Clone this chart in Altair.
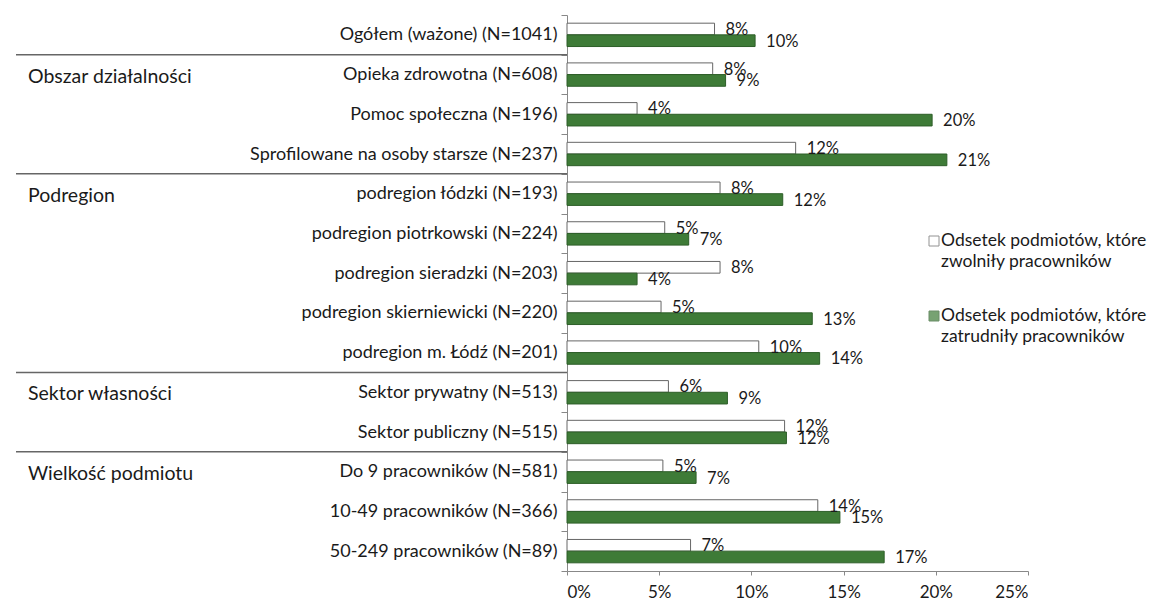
import altair as alt
import pandas as pd

categories = [
    "Ogółem (ważone) (N=1041)",
    "Opieka zdrowotna (N=608)",
    "Pomoc społeczna (N=196)",
    "Sprofilowane na osoby starsze (N=237)",
    "podregion łódzki (N=193)",
    "podregion piotrkowski (N=224)",
    "podregion sieradzki (N=203)",
    "podregion skierniewicki (N=220)",
    "podregion m. Łódź (N=201)",
    "Sektor prywatny (N=513)",
    "Sektor publiczny (N=515)",
    "Do 9 pracowników (N=581)",
    "10-49 pracowników (N=366)",
    "50-249 pracowników (N=89)",
]
series = [
    "Odsetek podmiotów, które\nzwolniły pracowników",
    "Odsetek podmiotów, które\nzatrudniły pracowników",
]
zwolnily = [8.0, 7.9, 3.8, 12.4, 8.3, 5.3, 8.3, 5.1, 10.4, 5.5, 11.8, 5.2, 13.6, 6.7]
zatrudnily = [10.2, 8.6, 19.8, 20.6, 11.7, 6.6, 3.8, 13.3, 13.7, 8.7, 11.9, 7.0, 14.8, 17.2]
x_ticks = [0, 5, 10, 15, 20, 25]
group_names = ["Obszar działalności", "Podregion", "Sektor własności", "Wielkość podmiotu"]
group_first = [
    "Opieka zdrowotna (N=608)",
    "podregion łódzki (N=193)",
    "Sektor prywatny (N=513)",
    "Do 9 pracowników (N=581)",
]

FONT = "Lato"
TXT = "#1a1a1a"
GREEN = "#3e7b37"

rows = []
for c, a, b in zip(categories, zwolnily, zatrudnily):
    rows.append({"cat": c, "series": series[0], "value": a})
    rows.append({"cat": c, "series": series[1], "value": b})
df = pd.DataFrame(rows)
gdf = pd.DataFrame({"cat": group_first, "group": group_names})

yscale = alt.Scale(domain=categories, paddingInner=0, paddingOuter=0)
yenc = alt.Y(
    "cat:N", sort=categories, scale=yscale, title=None,
    axis=alt.Axis(tickBand="extent", tickSize=6, tickColor="#888", domainColor="#888",
                  labelFontSize=18, labelColor=TXT, labelPadding=4, labelLimit=600,
                  labelFont=FONT),
)
xenc = alt.X(
    "value:Q", scale=alt.Scale(domain=[0, 25], nice=False), title=None,
    axis=alt.Axis(values=x_ticks, labelExpr="datum.value + '%'", grid=False, tickSize=4,
                  tickColor="#888", domainColor="#888", labelFontSize=17, labelColor=TXT,
                  labelPadding=9, labelFont=FONT),
)
yoff = alt.YOffset("series:N", sort=series,
                   scale=alt.Scale(domain=series, paddingOuter=0.7, paddingInner=0))

base = alt.Chart(df)
bars = base.mark_bar(strokeWidth=1).encode(
    x=xenc, y=yenc, yOffset=yoff,
    color=alt.Color("series:N", scale=alt.Scale(domain=series, range=["#ffffff", GREEN]), legend=None),
    stroke=alt.Stroke("series:N", scale=alt.Scale(domain=series, range=["#666666", "#2d5e28"]), legend=None),
)
labels = base.transform_calculate(lab="round(datum.value) + '%'").mark_text(
    align="left", baseline="middle", dx=11, dy=1, fontSize=16.5, font=FONT, color=TXT
).encode(x="value:Q", y=alt.Y("cat:N", sort=categories), yOffset=yoff, text="lab:N")

group_text = alt.Chart(gdf).mark_text(
    align="left", baseline="middle", dy=2, fontSize=19.5, font=FONT, color=TXT
).encode(x=alt.value(-539), y=alt.Y("cat:N", sort=categories), text="group:N")

sep = alt.Chart(gdf).mark_rule(color="#666666", strokeWidth=1.5).encode(
    y=alt.Y("cat:N", sort=categories, bandPosition=0),
    x=alt.value(-551), x2=alt.value(0),
)

legend_layers = []
sym_y = [226, 301]
for i, s in enumerate(series):
    ldf = pd.DataFrame({"series": [s]})
    sq = alt.Chart(ldf).mark_point(shape="square", filled=True, size=100, strokeWidth=1).encode(
        x=alt.value(367), y=alt.value(sym_y[i]),
        color=alt.Color("series:N", scale=alt.Scale(domain=series, range=["#ffffff", GREEN]), legend=None),
        stroke=alt.Stroke("series:N", scale=alt.Scale(domain=series, range=["#666666", "#2d5e28"]), legend=None),
    )
    tx = alt.Chart(ldf).mark_text(
        align="left", baseline="middle", lineBreak="\n", lineHeight=21, fontSize=17.5,
        font=FONT, color=TXT
    ).encode(x=alt.value(374), y=alt.value(sym_y[i]), text="series:N")
    legend_layers += [sq, tx]

chart = alt.layer(bars, labels, group_text, sep, *legend_layers).properties(
    width=461, height=556,
    autosize=alt.AutoSizeParams(type="none"),
    padding={"left": 567, "top": 15, "right": 136, "bottom": 32},
    background="white",
).configure_view(stroke=None)

chart.save("out.html", embed_options={"renderer": "svg", "actions": False})
